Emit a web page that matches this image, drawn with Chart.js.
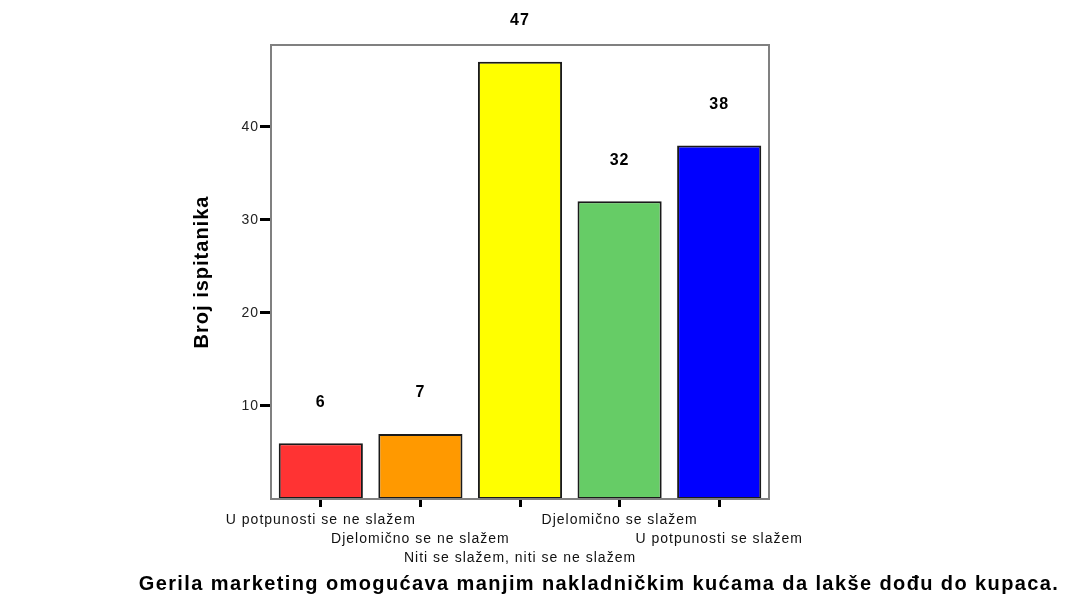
<!DOCTYPE html>
<html>
<head>
<meta charset="utf-8">
<script src="https://cdn.jsdelivr.net/npm/chart.js@4.4.0/dist/chart.umd.min.js"></script>
<style>
  html, body { margin: 0; padding: 0; background: #fff; }
  #wrap { width: 1067px; height: 599px; }
</style>
</head>
<body>
<div id="wrap"><canvas id="chart-bars"></canvas></div>
<script>
var categories = [
  ["U potpunosti se ne slažem"],
  ["", "Djelomično se ne slažem"],
  ["", "", "Niti se slažem, niti se ne slažem"],
  ["Djelomično se slažem"],
  ["", "U potpunosti se slažem"]
];
var counts = [6, 7, 47, 32, 38];
var yTicks = [10, 20, 30, 40];
var barColors = ["#FF3333", "#FF9900", "#FFFF00", "#66CC66", "#0000FF"];
var xTitle = "Gerila marketing omogućava manjim nakladničkim kućama da lakše dođu do kupaca.";

var FONT = "'Liberation Sans', Arial, sans-serif";

var spacing = {
  id: "spacing",
  beforeDraw: function (chart) {
    chart.ctx.letterSpacing = "1px";
  }
};

// grey box round the plot area, plus the long x title across the full width
var frame = {
  id: "frame",
  afterDraw: function (chart) {
    var a = chart.chartArea;
    var c = chart.ctx;
    c.save();
    c.strokeStyle = "#808080";
    c.lineWidth = 2;
    c.strokeRect(a.left, a.top, a.right - a.left, a.bottom - a.top);
    c.letterSpacing = "1.4px";
    c.font = "bold 20px " + FONT;
    c.fillStyle = "#000";
    c.textAlign = "center";
    c.textBaseline = "middle";
    c.fillText(xTitle, 599, 584);
    c.restore();
  }
};

var valueLabels = {
  id: "valueLabels",
  afterDatasetsDraw: function (chart) {
    var c = chart.ctx;
    var meta = chart.getDatasetMeta(0);
    c.save();
    c.letterSpacing = "1px";
    c.font = "bold 16px " + FONT;
    c.fillStyle = "#000";
    c.textAlign = "center";
    c.textBaseline = "middle";
    meta.data.forEach(function (bar, i) {
      c.fillText(String(counts[i]), bar.x, bar.y - 41);
    });
    c.restore();
  }
};

var ctx = document.getElementById("chart-bars").getContext("2d");

new Chart(ctx, {
  type: "bar",
  data: {
    labels: categories,
    datasets: [
      {
        data: counts,
        backgroundColor: barColors,
        borderColor: "#1a1a1a",
        borderWidth: 2,
        borderSkipped: false,
        categoryPercentage: 1,
        barPercentage: 0.845
      }
    ]
  },
  plugins: [spacing, frame, valueLabels],
  options: {
    responsive: true,
    maintainAspectRatio: false,
    animation: false,
    layout: { padding: { left: 190, right: 298, top: 45, bottom: 0 } },
    plugins: {
      legend: { display: false },
      tooltip: { enabled: false }
    },
    scales: {
      y: {
        min: 0,
        max: 48.8,
        afterBuildTicks: function (axis) {
          axis.ticks = yTicks.map(function (v) { return { value: v }; });
        },
        afterFit: function (scale) { scale.width = 81; },
        border: { display: false },
        grid: {
          display: true,
          drawOnChartArea: false,
          drawTicks: true,
          tickLength: 11,
          tickWidth: 3,
          tickColor: "#000"
        },
        ticks: {
          padding: 1,
          color: "#222",
          font: { size: 14, family: FONT }
        },
        title: {
          display: true,
          text: "Broj ispitanika",
          color: "#000",
          padding: { top: 0, bottom: 0 },
          font: { size: 20, weight: "bold", family: FONT }
        }
      },
      x: {
        afterFit: function (scale) { scale.height = 100; },
        border: { display: false },
        grid: {
          display: true,
          drawOnChartArea: false,
          drawTicks: true,
          tickLength: 8,
          tickWidth: 3,
          tickColor: "#000",
          offset: false
        },
        ticks: {
          autoSkip: false,
          maxRotation: 0,
          minRotation: 0,
          padding: 4,
          color: "#111",
          font: { size: 14, lineHeight: 1.36, family: FONT }
        }
      }
    }
  }
});
</script>
</body>
</html>
